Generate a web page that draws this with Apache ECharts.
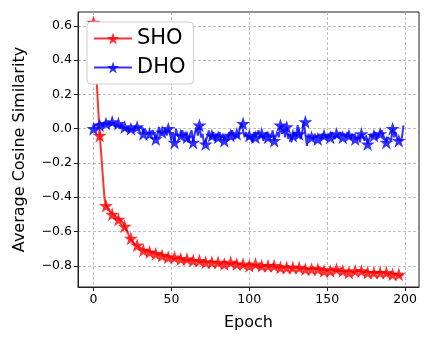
<!DOCTYPE html>
<html><head><meta charset="utf-8">
<script src="https://cdn.jsdelivr.net/npm/echarts@6/dist/echarts.min.js"></script>
<style>html,body{margin:0;padding:0;background:#fff}#c{width:432px;height:346px}</style>
</head><body><div id="c"></div>
<script>
const xTicks = [0, 50, 100, 150, 200];
const yTicks = [-0.8, -0.6, -0.4, -0.2, 0.0, 0.2, 0.4, 0.6];
const seriesNames = ['SHO', 'DHO'];
const sho = [
0.62,0.45,0.28,0.12,-0.04,-0.15,-0.28,-0.40,-0.45,-0.46,
-0.47,-0.49,-0.50,-0.50,-0.51,-0.52,-0.53,-0.53,-0.54,-0.55,
-0.57,-0.59,-0.61,-0.63,-0.64,-0.66,-0.67,-0.68,-0.68,-0.69,
-0.70,-0.70,-0.71,-0.71,-0.72,-0.71,-0.72,-0.72,-0.73,-0.72,
-0.73,-0.73,-0.74,-0.73,-0.74,-0.74,-0.75,-0.74,-0.75,-0.75,
-0.75,-0.76,-0.75,-0.76,-0.76,-0.75,-0.76,-0.77,-0.76,-0.77,
-0.76,-0.77,-0.77,-0.76,-0.77,-0.77,-0.78,-0.77,-0.77,-0.78,
-0.78,-0.77,-0.78,-0.78,-0.79,-0.77,-0.78,-0.78,-0.79,-0.78,
-0.78,-0.79,-0.78,-0.78,-0.79,-0.78,-0.79,-0.79,-0.78,-0.79,
-0.79,-0.78,-0.79,-0.79,-0.80,-0.79,-0.79,-0.80,-0.79,-0.79,
-0.80,-0.79,-0.80,-0.80,-0.79,-0.80,-0.80,-0.81,-0.80,-0.80,
-0.81,-0.80,-0.80,-0.81,-0.80,-0.79,-0.80,-0.81,-0.80,-0.81,
-0.81,-0.80,-0.81,-0.81,-0.81,-0.80,-0.81,-0.82,-0.81,-0.81,
-0.82,-0.81,-0.81,-0.82,-0.81,-0.81,-0.82,-0.82,-0.81,-0.82,
-0.82,-0.81,-0.82,-0.82,-0.82,-0.81,-0.82,-0.82,-0.83,-0.82,
-0.82,-0.82,-0.83,-0.82,-0.82,-0.83,-0.82,-0.83,-0.82,-0.83,
-0.83,-0.83,-0.82,-0.83,-0.84,-0.83,-0.83,-0.84,-0.83,-0.83,
-0.84,-0.83,-0.83,-0.84,-0.84,-0.83,-0.84,-0.84,-0.83,-0.84,
-0.84,-0.84,-0.85,-0.84,-0.84,-0.84,-0.85,-0.84,-0.84,-0.85,
-0.85,-0.84,-0.85,-0.85,-0.84,-0.85,-0.85,-0.86,-0.85,-0.85
];
const dho = [
0.00,0.02,0.01,0.03,0.02,0.03,0.01,0.04,0.03,0.02,
0.04,0.02,0.04,0.03,0.01,0.03,0.03,0.00,0.03,0.01,
0.01,-0.01,0.01,-0.02,0.00,0.01,-0.01,0.02,0.01,0.00,
-0.01,0.01,-0.03,0.00,-0.02,-0.03,-0.03,-0.04,-0.01,0.00,
-0.06,-0.04,0.01,-0.03,-0.02,-0.02,0.00,-0.04,0.00,-0.03,
-0.07,-0.02,-0.08,0.00,-0.04,-0.03,-0.04,-0.01,-0.04,-0.02,
-0.05,-0.08,-0.03,-0.01,-0.08,-0.03,0.01,-0.04,0.02,-0.05,
-0.03,-0.09,-0.09,-0.05,-0.01,-0.06,-0.04,-0.02,-0.07,-0.03,
-0.05,-0.02,-0.06,-0.03,-0.07,-0.04,-0.07,-0.02,-0.04,-0.01,
-0.04,-0.06,-0.03,-0.05,0.01,0.03,0.03,-0.05,-0.02,-0.06,
-0.04,-0.05,-0.08,-0.02,-0.05,-0.06,-0.01,-0.05,-0.03,-0.07,
-0.04,-0.02,-0.05,-0.03,-0.05,-0.01,-0.07,-0.07,-0.02,-0.05,
0.02,-0.03,0.00,-0.05,0.01,-0.06,-0.03,-0.08,-0.04,-0.02,
-0.05,0.02,-0.03,-0.06,-0.02,0.04,0.04,-0.10,-0.03,-0.05,
-0.05,-0.06,-0.03,-0.05,-0.06,-0.04,-0.06,-0.03,-0.04,-0.04,
-0.06,-0.03,-0.05,-0.02,-0.04,-0.06,-0.03,-0.05,-0.02,-0.04,
-0.05,-0.03,-0.05,-0.02,-0.04,-0.06,-0.03,-0.05,-0.06,-0.06,
-0.04,-0.08,-0.03,-0.05,-0.07,-0.04,-0.09,-0.06,-0.03,-0.05,
-0.04,-0.02,-0.06,-0.03,-0.03,-0.01,-0.04,-0.06,-0.08,-0.05,
-0.04,-0.07,0.00,-0.05,-0.02,-0.06,-0.07,-0.07,-0.05,0.02
];
const epochs = sho.map((_, i) => i);
const MARK_EVERY = 4;
const STAR = 'path://M50,0 L61.2,34.5 L97.6,34.5 L68.2,55.9 L79.4,90.5 L50,69.1 L20.6,90.5 L31.8,55.9 L2.4,34.5 L38.8,34.5 Z';
const FONT = 'DejaVu Sans';
const fmt = v => (Math.abs(v) < 1e-9 ? '0' : String(v)).replace('-', '\u2212');
const fmtY = v => (Math.abs(v) < 1e-9 ? 0 : v).toFixed(1).replace('-', '\u2212');

function mkSeries(name, vals, color) {
  return {
    name, type: 'line',
    data: vals.map((v, i) => [epochs[i], v]),
    symbol: STAR,
    symbolSize: (val, p) => (p.dataIndex % MARK_EVERY === 0 ? 14 : 0),
    showSymbol: true, showAllSymbol: true,
    lineStyle: { color, width: 2, opacity: 0.8 },
    itemStyle: { color, opacity: 0.8 },
    emphasis: { disabled: true },
    animation: false
  };
}

const chart = echarts.init(document.getElementById('c'), null, { renderer: 'canvas' });
chart.setOption({
  backgroundColor: '#fff',
  animation: false,
  grid: { left: 78, right: 13, top: 12, bottom: 59, show: true, borderColor: '#222', borderWidth: 1, backgroundColor: 'transparent' },
  legend: {
    left: 87, top: 22,
    orient: 'vertical',
    backgroundColor: '#fff', borderColor: '#ccc', borderWidth: 1, borderRadius: 4,
    padding: [6, 8, 6, 6], itemGap: 8,
    itemWidth: 38, itemHeight: 15,
    textStyle: { fontFamily: FONT, fontSize: 21, color: '#000' },
    data: seriesNames.map(n => ({ name: n }))
  },
  xAxis: {
    type: 'value', min: -9.95, max: 208.95,
    name: 'Epoch', nameLocation: 'middle', nameGap: 28,
    nameTextStyle: { fontFamily: FONT, fontSize: 16, color: '#000' },
    axisLine: { show: true, onZero: false, lineStyle: { color: '#222' } },
    axisTick: { show: true, length: 4, customValues: xTicks, lineStyle: { color: '#222' } },
    axisLabel: { customValues: xTicks, formatter: fmt, fontFamily: FONT, fontSize: 12.5, color: '#000', margin: 6 },
    splitLine: { show: true, lineStyle: { color: '#b0b0b0', type: [3, 2], width: 0.8 } }
  },
  yAxis: {
    type: 'value', min: -0.924, max: 0.681,
    name: 'Average Cosine Similarity', nameLocation: 'middle', nameGap: 50,
    nameTextStyle: { fontFamily: FONT, fontSize: 16, color: '#000' },
    axisLine: { show: true, onZero: false, lineStyle: { color: '#222' } },
    axisTick: { show: true, length: 4, customValues: yTicks, lineStyle: { color: '#222' } },
    axisLabel: { customValues: yTicks, formatter: fmtY, fontFamily: FONT, fontSize: 12.5, color: '#000', margin: 6 },
    splitLine: { show: true, lineStyle: { color: '#b0b0b0', type: [3, 2], width: 0.8 } }
  },
  series: [
    mkSeries(seriesNames[0], sho, '#ff0000'),
    mkSeries(seriesNames[1], dho, '#0000ff')
  ]
});
</script></body></html>
